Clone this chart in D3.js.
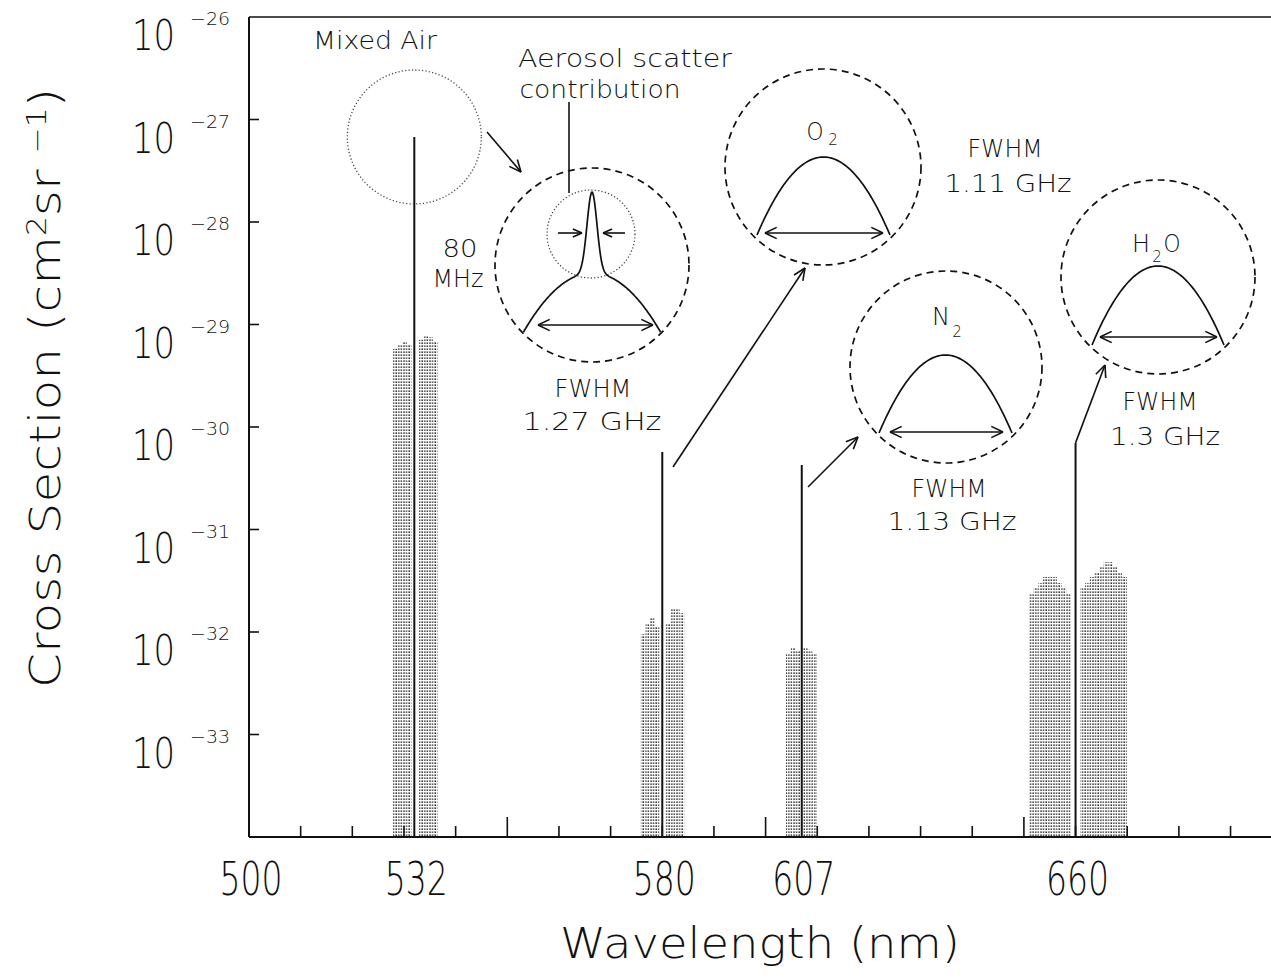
<!DOCTYPE html>
<html>
<head>
<meta charset="utf-8">
<script src="https://cdn.jsdelivr.net/npm/d3@7"></script>
<style>
  html, body { margin: 0; padding: 0; background: #fff; }
  svg { display: block; }
  text { font-family: 'DejaVu Sans', sans-serif; font-weight: 200; fill: #111; }
</style>
</head>
<body>
<svg id="chart" width="1271" height="979"></svg>
<script>
// ---- data -------------------------------------------------------------
// Elastic / vibrational Raman line centres (nm) and their peak cross sections (cm^2 sr^-1)
const lineWavelengths   = [532, 580, 607, 660];
const lineCrossSections = [6.75e-28, 5.7e-31, 4.26e-31, 7.0e-31];

// Rotational Raman wings around each line: [wavelength nm, cross section]
const rot532 = [[528.3, 5.8e-30], [529.2, 6.3e-30], [530.1, 6.75e-30], [531.0, 6.3e-30],
                [533.35, 7.1e-30], [534.25, 7.7e-30], [535.15, 7.5e-30], [536.05, 6.9e-30]];
const rot580 = [[576.3, 9.5e-33], [577.2, 1.2e-32], [578.1, 1.37e-32], [579.0, 1.12e-32],
                [581.1, 1.22e-32], [582.0, 1.71e-32], [582.9, 1.71e-32], [583.8, 1.53e-32]];
const rot607 = [[604.4, 6.2e-33], [605.3, 7.0e-33], [606.2, 6.5e-33],
                [607.7, 7.0e-33], [608.6, 6.7e-33], [609.5, 6.2e-33]];
const rot660 = [[651.45, 2.4e-32], [652.35, 2.75e-32], [653.25, 3.0e-32], [654.15, 3.45e-32],
                [655.05, 3.45e-32], [655.95, 3.45e-32], [656.85, 3.0e-32], [657.75, 2.75e-32],
                [658.65, 2.4e-32],
                [661.4, 2.75e-32], [662.3, 3.0e-32], [663.2, 3.45e-32], [664.1, 3.85e-32],
                [665.0, 4.4e-32], [665.9, 4.8e-32], [666.8, 4.8e-32], [667.7, 4.4e-32],
                [668.6, 3.85e-32], [669.5, 3.45e-32]];
const rotBandWidth = 0.9; // nm covered by each rotational strip

// Axis ticks
const yTickExponents = [-26, -27, -28, -29, -30, -31, -32, -33];
const xTickLabels    = [500, 532, 580, 607, 660];
const xMinorTicks    = [510, 520, 530, 540, 560, 570, 580, 590, 610, 620, 630, 640, 660, 670, 680, 690];
const xMajorTicks    = [550, 600, 650];

// ---- scales -----------------------------------------------------------
const svg = d3.select('#chart');
const x = d3.scaleLinear().domain([500, 700]).range([249, 1282.2]);
const y = d3.scaleLog().domain([1e-34, 1e-26]).range([837, 17]);

// Stipple pattern used for the rotational wings
const defs = svg.append('defs');
const pat = defs.append('pattern').attr('id', 'stipple')
  .attr('patternUnits', 'userSpaceOnUse').attr('width', 2.6).attr('height', 3);
pat.append('rect').attr('x', 0.3).attr('y', 0.4).attr('width', 1.4).attr('height', 1.5).attr('fill', '#222');

// ---- rotational wings -------------------------------------------------
const wings = svg.append('g');
[rot532, rot580, rot607, rot660].forEach(band => {
  wings.selectAll(null).data(band).enter().append('rect')
    .attr('x', d => x(d[0] - rotBandWidth / 2))
    .attr('width', d => x(d[0] + rotBandWidth / 2) - x(d[0] - rotBandWidth / 2))
    .attr('y', d => y(d[1]))
    .attr('height', d => y(1e-34) - y(d[1]))
    .attr('fill', 'url(#stipple)');
});

// ---- central lines ----------------------------------------------------
svg.append('g').selectAll('line').data(lineWavelengths).enter().append('line')
  .attr('x1', d => x(d)).attr('x2', d => x(d))
  .attr('y1', y(1e-34)).attr('y2', (d, i) => y(lineCrossSections[i]))
  .attr('stroke', '#111').attr('stroke-width', 2);

// ---- frame and ticks --------------------------------------------------
const frame = svg.append('g').attr('stroke', '#111').attr('fill', 'none');
frame.append('line').attr('x1', x(500)).attr('x2', x(500)).attr('y1', y(1e-26)).attr('y2', y(1e-34)).attr('stroke-width', 2);
frame.append('line').attr('x1', x(500)).attr('x2', x(700)).attr('y1', y(1e-34)).attr('y2', y(1e-34)).attr('stroke-width', 2);
frame.append('line').attr('x1', x(500)).attr('x2', x(700)).attr('y1', y(1e-26)).attr('y2', y(1e-26)).attr('stroke-width', 1.6);

frame.selectAll('.yt').data(yTickExponents.slice(1)).enter().append('line')
  .attr('x1', x(500)).attr('x2', x(500) + 10)
  .attr('y1', d => y(Math.pow(10, d))).attr('y2', d => y(Math.pow(10, d)))
  .attr('stroke-width', 1.6);
frame.selectAll('.xm').data(xMinorTicks).enter().append('line')
  .attr('x1', d => x(d)).attr('x2', d => x(d))
  .attr('y1', y(1e-34)).attr('y2', y(1e-34) - 11).attr('stroke-width', 1.6);
frame.selectAll('.xM').data(xMajorTicks).enter().append('line')
  .attr('x1', d => x(d)).attr('x2', d => x(d))
  .attr('y1', y(1e-34)).attr('y2', y(1e-34) - 20).attr('stroke-width', 1.6);

// ---- text helpers -----------------------------------------------------
function label(s, px, py, size, width, anchor) {
  const t = svg.append('text').attr('x', px).attr('y', py)
    .attr('font-size', size).attr('text-anchor', anchor || 'middle').text(s);
  if (width) t.attr('textLength', width).attr('lengthAdjust', 'spacingAndGlyphs');
  return t;
}

// y tick labels: 10 with superscript exponent
yTickExponents.forEach(e => {
  const ty = y(Math.pow(10, e));
  label('10', 175, ty + 33, 42, 43, 'end');
  label('\u2212' + Math.abs(e), 190, ty + 8, 18, 40, 'start');
});

// x tick labels
xTickLabels.forEach(v => label(String(v), x(v) + 2, 895, 46, 63));

// axis titles
label('Wavelength (nm)', 760, 958, 42, 400);
const yt = svg.append('text').attr('transform', 'translate(60,388) rotate(-90)')
  .attr('text-anchor', 'middle').attr('font-size', 42)
  .attr('textLength', 600).attr('lengthAdjust', 'spacingAndGlyphs');
yt.append('tspan').text('Cross Section (cm');
yt.append('tspan').attr('dy', -14).attr('font-size', 26).text('2');
yt.append('tspan').attr('dy', 14).text('sr ');
yt.append('tspan').attr('dy', -14).attr('font-size', 26).text('\u22121');
yt.append('tspan').attr('dy', 14).text(')');

// ---- annotation drawing helpers ---------------------------------------
const ann = svg.append('g').attr('stroke', '#111').attr('fill', 'none').attr('stroke-width', 1.6);

function head(x1, y1, x2, y2, len, spread) {
  const a = Math.atan2(y2 - y1, x2 - x1);
  [-spread, spread].forEach(s => {
    ann.append('line').attr('x1', x2).attr('y1', y2)
      .attr('x2', x2 - len * Math.cos(a + s)).attr('y2', y2 - len * Math.sin(a + s));
  });
}
function arrow(x1, y1, x2, y2, len) {
  ann.append('line').attr('x1', x1).attr('y1', y1).attr('x2', x2).attr('y2', y2);
  head(x1, y1, x2, y2, len || 13, 0.42);
}
function doubleArrow(x1, x2, yy) {
  ann.append('line').attr('x1', x1).attr('y1', yy).attr('x2', x2).attr('y2', yy);
  head(x2, yy, x1, yy, 13, 0.45);
  head(x1, yy, x2, yy, 13, 0.45);
}
function dashedCircle(cx, cy, r) {
  ann.append('circle').attr('cx', cx).attr('cy', cy).attr('r', r)
    .attr('stroke-dasharray', '7 5').attr('stroke-width', 1.7);
}
function dottedCircle(cx, cy, r) {
  ann.append('circle').attr('cx', cx).attr('cy', cy).attr('r', r)
    .attr('stroke', '#444').attr('stroke-dasharray', '1.2 2.2').attr('stroke-width', 1.3);
}
// arch-shaped line profile drawn inside an inset
function arch(cx, peakY, halfW, depth) {
  const pts = d3.range(-1, 1.0001, 0.04).map(t => [cx + t * halfW, peakY + depth * t * t]);
  ann.append('path').attr('d', d3.line()(pts)).attr('stroke-width', 1.7);
}

// Mixed air: circle around the elastic line top
const mx = x(532), my = y(lineCrossSections[0]);
dottedCircle(mx, my, 67);
label('Mixed Air', 375, 49, 24, 124);
arrow(487, 132, 521, 172);

// Aerosol inset
dashedCircle(592, 265, 97);
dottedCircle(591, 234, 44);
label('Aerosol scatter', 625, 67, 24, 214);
label('contribution', 600, 98, 24, 161);
ann.append('line').attr('x1', 569).attr('y1', 102).attr('x2', 569).attr('y2', 193);
{
  const pts = d3.range(-68.5, 68.51, 1).map(t =>
    [592 + t, 332 - (59 * (1 - (t / 68.5) * (t / 68.5)) + 81 * Math.exp(-(t / 7) * (t / 7)))]);
  ann.append('path').attr('d', d3.line()(pts)).attr('stroke-width', 1.7);
}
arrow(558, 233, 582, 233, 10);
arrow(625, 233, 603, 233, 10);
doubleArrow(538, 653, 325);
label('80', 460, 257, 24, 35);
label('MHz', 458, 287, 24, 51);
label('FWHM', 593, 397, 24, 77);
label('1.27  GHz', 592, 430, 24, 139);

// O2 inset
dashedCircle(823, 167, 98);
arch(823.5, 157, 66.5, 78);
doubleArrow(765, 883, 233);
label('O', 815, 140, 24, 17);
label('2', 833, 145, 15, null);
label('FWHM', 1005, 157, 24, 75);
label('1.11  GHz', 1008, 192, 24, 127);
arrow(673, 467, 805, 268);

// N2 inset
dashedCircle(946, 367, 96);
arch(945.5, 355, 66.5, 78);
doubleArrow(890, 1003, 432);
label('N', 941, 325, 24, 18);
label('2', 957, 337, 15, null);
label('FWHM', 949, 497, 24, 75);
label('1.13  GHz', 952, 530, 24, 129);
arrow(808, 487, 858, 437);

// H2O inset
dashedCircle(1158, 277, 97);
arch(1158, 266, 66, 79);
doubleArrow(1100, 1217, 337);
label('H', 1141, 252, 24, 18);
label('2', 1157, 262, 15, null);
label('O', 1172, 252, 24, 17);
label('FWHM', 1160, 410, 24, 75);
label('1.3  GHz', 1165, 445, 24, 110);
arrow(x(660), y(lineCrossSections[3]), 1105, 365);
</script>
</body>
</html>
